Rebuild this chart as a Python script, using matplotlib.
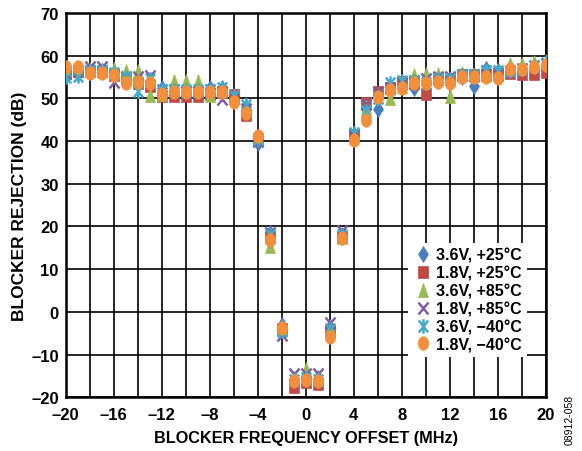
import matplotlib
matplotlib.use("Agg")
import matplotlib.pyplot as plt
from matplotlib.markers import MarkerStyle
from matplotlib.path import Path
from matplotlib.transforms import Affine2D
import numpy as np

plt.rcParams['font.family'] = ['Liberation Sans', 'DejaVu Sans']
plt.rcParams['font.weight'] = 'bold'
plt.rcParams['axes.unicode_minus'] = True

freq = list(range(-20, 21))

v36_p25 = [56, 56, 56.5, 56.5, 56, 55, 54.5, 54, 52.5, 52, 52, 52, 52.5, 52.5, 50.5, 48, 39.5, 18.5, -3, -16, -15,
           -15.5, -3.5, 18, 41.5, 47.5, 47.5, 52, 53, 52.5, 54, 54.5, 54, 55, 53, 57, 56.5, 56.5, 56.5, 57, 57.5]
v18_p25 = [56, 56.5, 56.5, 56.5, 55.5, 54.5, 53.5, 53, 50.5, 50.5, 50.5, 50.5, 51, 51.5, 50.8, 46, 40.5, 17.5, -4, -17.5, -16.5,
           -17, -4.5, 17.5, 41.5, 49, 51.5, 52.5, 53.8, 53.5, 51, 54.5, 54.5, 55.5, 55.5, 55.5, 55.5, 56, 55.7, 55.8, 56.2]
v36_p85 = [56.5, 57, 57, 57, 57, 56.5, 56.5, 50.8, 51, 54, 54, 54, 50.8, 52, 50.5, 47.5, 41, 15.5, -3.5, -15.5, -13.5,
           -15.5, -3.5, 17.5, 41, 48, 50.5, 50, 53, 55.5, 55.8, 55.8, 50.5, 56, 55.5, 56.5, 56, 58, 58, 58.5, 58.8]
v18_p85 = [56, 56.5, 57.3, 57.3, 53.8, 55, 55, 55.3, 52, 52, 51.5, 51.5, 52, 49.8, 50.5, 47.5, 40, 18.5, -5.5, -14.5, -14.5,
           -14.5, -2.5, 19, 41.5, 48.8, 51.5, 52.5, 53.5, 54, 54.5, 55, 55, 55.5, 55.5, 56.5, 56, 56.5, 57, 57.5, 58]
v36_m40 = [55, 55.2, 56.5, 56.5, 56, 55, 51.8, 54.5, 52, 52, 52, 52, 52, 52.5, 50.5, 48.5, 40.5, 18, -4.5, -16, -15.5,
           -16, -4, 18, 42, 47, 50, 53.5, 54, 54, 53.5, 54.5, 54.5, 55.5, 55.5, 56.5, 56.5, 56.5, 57, 57.5, 58.2]
v18_m40 = [57.4, 57.4, 55.9, 55.9, 55.5, 53.5, 53.8, 53.7, 51, 51.6, 51.6, 51.6, 51.6, 51.6, 49.2, 46.5, 41.2, 16.8, -3.8, -16.3, -16,
           -16.2, -5.8, 17.2, 40.2, 45, 50.3, 52, 52.4, 53.5, 53.5, 53.9, 53.7, 55, 55.1, 54.9, 54.7, 57, 57, 57.4, 57.8]

labels = ['3.6V, +25°C', '1.8V, +25°C', '3.6V, +85°C', '1.8V, +85°C', '3.6V, \u221240°C', '1.8V, \u221240°C']
colors = ['#4a7ebb', '#be4b48', '#98b954', '#7d60a0', '#46aac5', '#f0903e']

# asterisk marker: x with a vertical bar
star_path = Path([(-0.5, -0.5), (0.5, 0.5), (-0.5, 0.5), (0.5, -0.5), (0, -0.6), (0, 0.6)],
                 [Path.MOVETO, Path.LINETO, Path.MOVETO, Path.LINETO, Path.MOVETO, Path.LINETO])
stretch = Affine2D().scale(1.0, 1.3)
markers = [MarkerStyle('D', transform=Affine2D().scale(0.8, 1.1)),
           MarkerStyle('s', transform=stretch),
           MarkerStyle('^', transform=stretch),
           MarkerStyle('x', transform=stretch),
           MarkerStyle(star_path, transform=stretch),
           MarkerStyle('o', transform=stretch)]
sizes = [7, 7, 7.5, 7, 8, 7.5]
edge_w = [0.5, 0.5, 0.5, 1.8, 1.8, 0.5]

series = [v36_p25, v18_p25, v36_p85, v18_p85, v36_m40, v18_m40]

fig = plt.figure(figsize=(5.82, 4.52), dpi=100)
ax = fig.add_axes([0.113, 0.119, 0.825, 0.850])

for vals, lab, col, mk, ms, ew in zip(series, labels, colors, markers, sizes, edge_w):
    ax.plot(freq, vals, linestyle='none', marker=mk, markersize=ms, color=col,
            markeredgecolor=col, markeredgewidth=ew, label=lab, zorder=3)

ax.set_xlim(-20, 20)
ax.set_ylim(-20, 70)
ax.set_xticks(np.arange(-20, 21, 4))
ax.set_xticks(np.arange(-20, 21, 2), minor=True)
ax.set_yticks(np.arange(-20, 71, 10))
ax.set_xticklabels([str(t).replace('-', '\u2013') for t in range(-20, 21, 4)])
ax.set_yticklabels([str(t).replace('-', '\u2013') for t in range(-20, 71, 10)])
ax.grid(True, which='both', color='black', linewidth=1.2, zorder=1)
ax.set_axisbelow(True)
ax.tick_params(which='both', length=0, labelsize=12)
ax.tick_params(axis='x', pad=7)
ax.tick_params(axis='y', pad=5)
for s in ax.spines.values():
    s.set_linewidth(1.8)
    s.set_color('black')

ax.set_xlabel('BLOCKER FREQUENCY OFFSET (MHz)', fontsize=11.7, fontweight='bold', labelpad=6)
ax.set_ylabel('BLOCKER REJECTION (dB)', fontsize=12.5, fontweight='bold', labelpad=3)

leg = ax.legend(loc='lower right', bbox_to_anchor=(0.96, 0.105), frameon=True, fancybox=False,
                fontsize=11.5, handletextpad=0.15, borderpad=0.3, labelspacing=0.18,
                handlelength=1.3, borderaxespad=0.0)
leg.get_frame().set_edgecolor('none')
leg.get_frame().set_facecolor('white')
leg.get_frame().set_alpha(1)
leg.set_zorder(5)

fig.text(0.978, 0.015, '08912-058', rotation=90, fontsize=7.5, fontweight='normal', ha='center', va='bottom')

fig.savefig('out.png', dpi=100)
